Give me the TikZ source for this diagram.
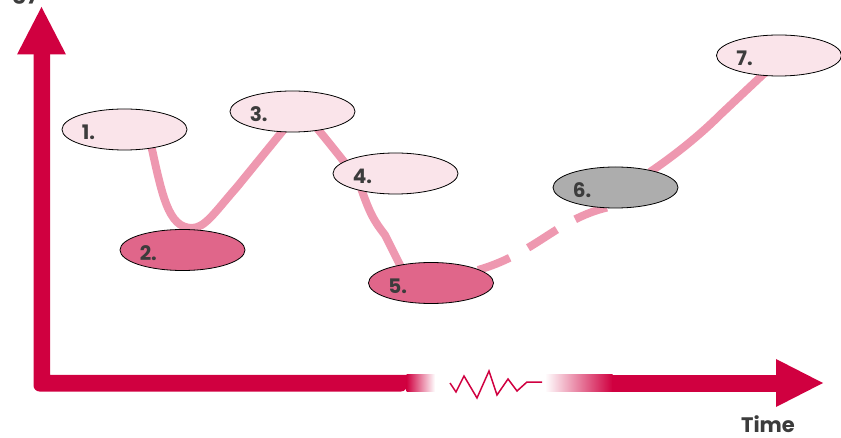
\documentclass[tikz,border=0pt]{standalone}
\usepackage{fontspec}
\setmainfont{Poppins}
\usetikzlibrary{calc,backgrounds,shapes.geometric}
\definecolor{axisred}{RGB}{208,0,64}
\definecolor{trailpink}{RGB}{238,152,176}
\definecolor{lightfill}{RGB}{250,228,234}
\definecolor{darkfill}{RGB}{224,102,138}
\definecolor{grayfill}{RGB}{173,173,173}
\definecolor{labelgray}{RGB}{60,60,60}
\tikzset{
  stage/.style={ellipse, draw=black, line width=0.8pt, minimum width=125pt, minimum height=41pt, inner sep=0pt},
  stagelabel/.style={anchor=west, inner sep=0pt, font=\bfseries\fontsize{20}{20}\selectfont, text=labelgray},
  trail/.style={draw=trailpink, line width=8pt},
  dashtrail/.style={trail, dash pattern=on 34pt off 21pt},
}
\begin{document}
\begin{tikzpicture}[x=1pt,y=-1pt]
\useasboundingbox (0,0) rectangle (841,438);
% axes
\fill[axisred] (33.5,54) {[rounded corners=6] -- (33.5,391.5) -- (407,391.5)} -- (407,375) -- (50,375) -- (50,54) -- cycle;
\fill[axisred] (41.5,7) -- (66,54.5) -- (17,54.5) -- cycle;
\shade[left color=axisred, right color=white] (406.5,375) rectangle (435,391.5);
\shade[left color=white, right color=axisred] (545,375) rectangle (612.5,391.5);
\fill[axisred] (612,375) rectangle (777,391.5);
\fill[axisred] (823,383) -- (776,359) -- (776,407) -- cycle;
\draw[axisred, line width=1.5pt, line join=miter] (450,383) -- (456,392) -- (464,376) -- (477,398) -- (489,371) -- (497,395) -- (508,379) -- (517,391) -- (527,382) -- (542,382);
\node (ytitle) [anchor=base east, inner sep=0pt, font=\bfseries\fontsize{21}{21}\selectfont, text=labelgray] at (40,-1) {Energy};
\node (xtitle) [inner sep=0pt, font=\bfseries\fontsize{21}{21}\selectfont, text=labelgray] at (768,424) {Time};
% stages
\node (n1) [stage, fill=lightfill] at (124.5,129.5) {};
\node (n2) [stage, fill=darkfill] at (182.5,250) {};
\node (n3) [stage, fill=lightfill] at (292.5,111.5) {};
\node (n4) [stage, fill=lightfill] at (395.5,173.5) {};
\node (n5) [stage, fill=darkfill] at (431,283) {};
\node (n6) [stage, fill=grayfill] at (615.5,187.5) {};
\node (n7) [stage, fill=lightfill] at (779,55.5) {};
\foreach \i in {1,...,7}{
  \node (l\i) [stagelabel] at ($(n\i.west)+(20,3)$) {\i.};
}
\begin{pgfonlayer}{background}
\draw[trail] ($(n1)+(25.5,10.5)$) .. controls ($(n1)+(37.5,65.5)$) and ($(n2)+(-14.5,-22)$) .. ($(n2)+(9.5,-22)$)
  .. controls ($(n2)+(22.5,-22)$) and ($(n2)+(32.5,-38)$) .. ($(n2)+(54.5,-63)$) -- ($(n3)+(-2.5,10.5)$);
\draw[trail] ($(n3)+(19.5,10.5)$) .. controls ($(n3)+(32.5,26.5)$) and ($(n4)+(-60.5,-23.5)$) .. ($(n4)+(-43.5,-1.5)$);
\draw[trail] ($(n4)+(-35.5,11.5)$) .. controls ($(n4)+(-25.5,41.5)$) and ($(n5)+(-56,-61)$) .. ($(n5)+(-46,-48)$) -- ($(n5)+(-26,-8)$);
\draw[dashtrail] ($(n5)+(47,-13)$) .. controls ($(n5)+(89,-25)$) and ($(n6)+(-70.5,47.5)$) .. ($(n6)+(-45.5,34.5)$)
  .. controls ($(n6)+(-30.5,26.5)$) and ($(n6)+(-15.5,20.5)$) .. ($(n6)+(4.5,17.5)$);
\draw[trail] ($(n6)+(34.5,-15.5)$) .. controls ($(n6)+(59.5,-32.5)$) and ($(n7)+(-79,79.5)$) .. ($(n7)+(-59,59.5)$) -- ($(n7)+(-9,12.5)$);
\end{pgfonlayer}
\end{tikzpicture}
\end{document}
